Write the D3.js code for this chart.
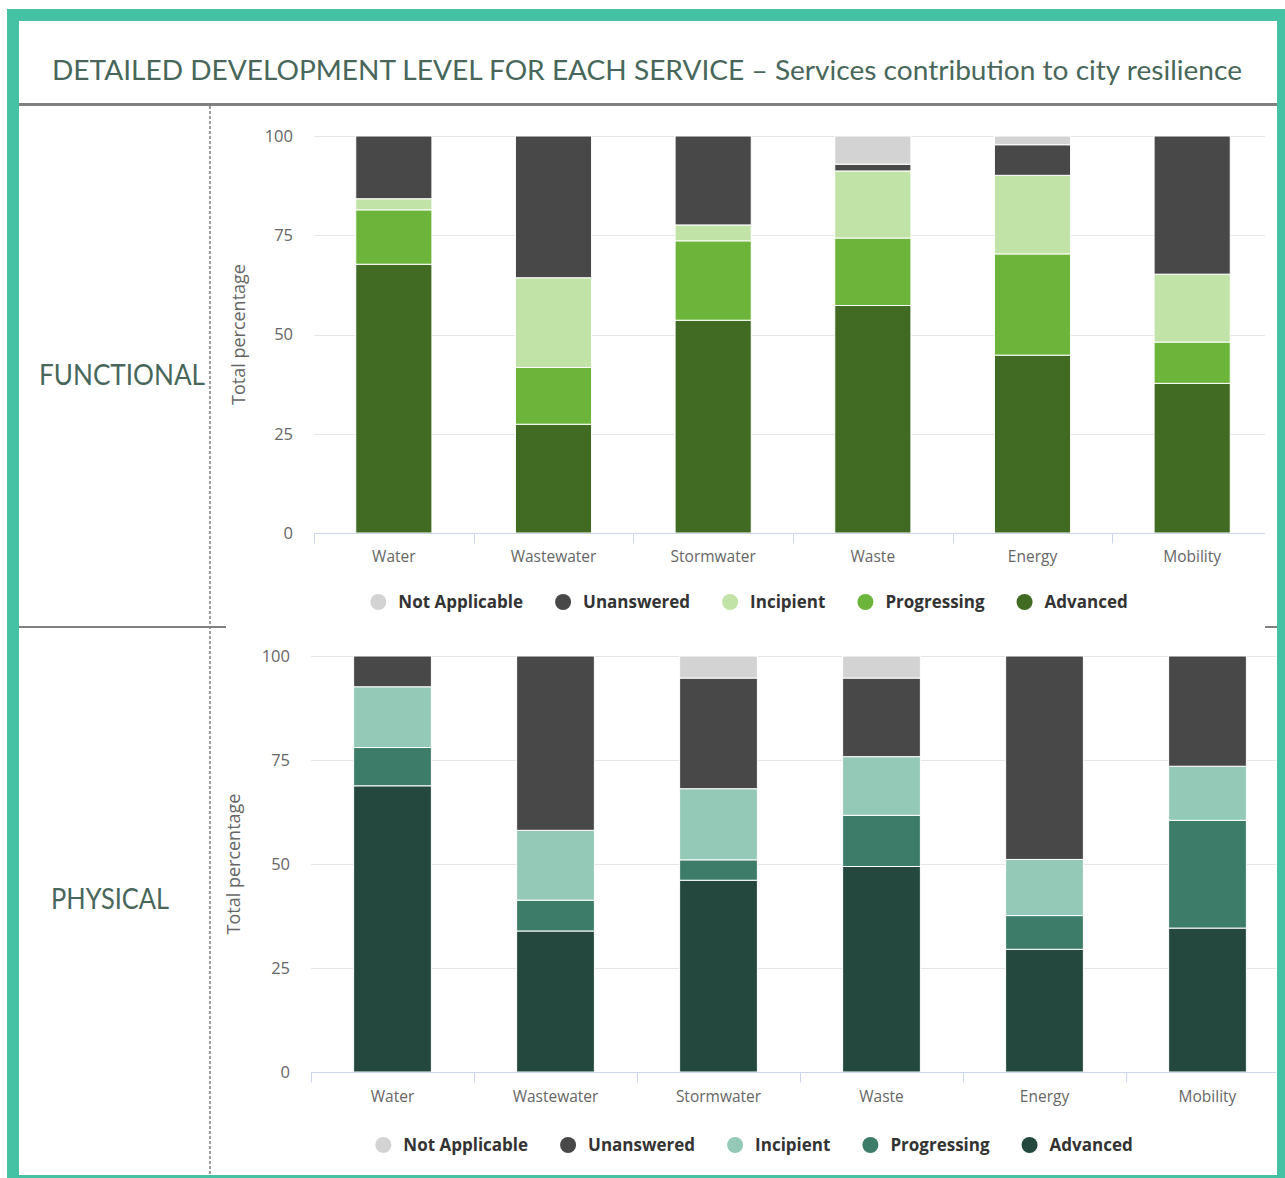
<!DOCTYPE html>
<html>
<head>
<meta charset="utf-8">
<script src="https://cdn.jsdelivr.net/npm/d3@7"></script>
<style>
  body { margin: 0; background: #fff; }
  svg { display: block; }
</style>
</head>
<body>
<svg id="chart" width="1285" height="1178"></svg>
<script>
// Services and development levels
const services = ["Water", "Wastewater", "Stormwater", "Waste", "Energy", "Mobility"];
const stackOrder = ["Advanced", "Progressing", "Incipient", "Unanswered", "Not Applicable"];
const legendOrder = ["Not Applicable", "Unanswered", "Incipient", "Progressing", "Advanced"];
const yTicks = [0, 25, 50, 75, 100];

// Functional resilience (% of answers per level)
const functionalAdvanced      = [67.7, 27.4, 53.6, 57.3, 44.8, 37.7];
const functionalProgressing   = [13.7, 14.3, 20.0, 17.0, 25.5, 10.4];
const functionalIncipient     = [ 2.8, 22.6,  4.0, 16.9, 19.8, 17.1];
const functionalUnanswered    = [15.8, 35.7, 22.4,  1.7,  7.7, 34.8];
const functionalNotApplicable = [ 0.0,  0.0,  0.0,  7.1,  2.2,  0.0];

// Physical resilience (% of answers per level)
const physicalAdvanced      = [68.8, 33.9, 46.1, 49.4, 29.5, 34.6];
const physicalProgressing   = [ 9.2,  7.4,  4.9, 12.3,  8.1, 25.9];
const physicalIncipient     = [14.6, 16.8, 17.1, 14.1, 13.5, 13.0];
const physicalUnanswered    = [ 7.4, 41.9, 26.6, 18.9, 48.9, 26.5];
const physicalNotApplicable = [ 0.0,  0.0,  5.3,  5.3,  0.0,  0.0];

const functionalColors = ["#d3d3d3", "#484848", "#c1e3a7", "#6db53a", "#416b23"];
const physicalColors   = ["#d3d3d3", "#484848", "#93c9b6", "#3d7c69", "#24483e"];

function buildRows(adv, prog, inc, unans, na) {
  return services.map((s, i) => ({
    service: s,
    "Advanced": adv[i],
    "Progressing": prog[i],
    "Incipient": inc[i],
    "Unanswered": unans[i],
    "Not Applicable": na[i]
  }));
}

const svg = d3.select("#chart");
const teal = "#45c2a4";
const frameGray = "#808080";
const labelGreen = "#48675a";

// Frame
svg.append("rect").attr("x", 7).attr("y", 9).attr("width", 1278).attr("height", 12).attr("fill", teal);
svg.append("rect").attr("x", 7).attr("y", 9).attr("width", 12).attr("height", 1169).attr("fill", teal);
svg.append("rect").attr("x", 1277).attr("y", 9).attr("width", 8).attr("height", 1169).attr("fill", teal);
svg.append("rect").attr("x", 7).attr("y", 1175).attr("width", 1278).attr("height", 3).attr("fill", teal);

// Title
svg.append("text")
  .attr("x", 52).attr("y", 80)
  .attr("font-family", "Lato, 'Open Sans', sans-serif")
  .attr("font-size", 26)
  .attr("fill", labelGreen)
  .attr("textLength", 1190)
  .attr("lengthAdjust", "spacingAndGlyphs")
  .text("DETAILED DEVELOPMENT LEVEL FOR EACH SERVICE \u2013 Services contribution to city resilience");

// Table rules
svg.append("line").attr("x1", 19).attr("x2", 1277).attr("y1", 104.5).attr("y2", 104.5)
  .attr("stroke", frameGray).attr("stroke-width", 3);
svg.append("line").attr("x1", 210).attr("x2", 210).attr("y1", 106).attr("y2", 1175)
  .attr("stroke", frameGray).attr("stroke-width", 1.5).attr("stroke-dasharray", "3,2");
svg.append("line").attr("x1", 19).attr("x2", 226).attr("y1", 627).attr("y2", 627)
  .attr("stroke", frameGray).attr("stroke-width", 2);
svg.append("line").attr("x1", 1265).attr("x2", 1277).attr("y1", 627).attr("y2", 627)
  .attr("stroke", frameGray).attr("stroke-width", 2);

// Row labels
svg.append("text").attr("x", 39).attr("y", 385)
  .attr("font-family", "Lato, 'Open Sans', sans-serif").attr("font-size", 29)
  .attr("fill", labelGreen).attr("textLength", 166).attr("lengthAdjust", "spacingAndGlyphs")
  .text("FUNCTIONAL");
svg.append("text").attr("x", 51).attr("y", 909)
  .attr("font-family", "Lato, 'Open Sans', sans-serif").attr("font-size", 29)
  .attr("fill", labelGreen).attr("textLength", 118).attr("lengthAdjust", "spacingAndGlyphs")
  .text("PHYSICAL");

function drawPanel(cfg) {
  const g = svg.append("g");
  const x = d3.scaleBand().domain(services).range([cfg.x0, cfg.x1])
    .paddingInner(0.523).paddingOuter(0.2615);
  const y = d3.scaleLinear().domain([0, 100]).range([cfg.yBottom, cfg.yTop]);
  const color = d3.scaleOrdinal().domain(legendOrder).range(cfg.colors);

  // Gridlines
  g.selectAll(".grid").data(yTicks.filter(t => t > 0)).join("line")
    .attr("x1", cfg.x0).attr("x2", cfg.gridRight)
    .attr("y1", d => Math.round(y(d)) + 0.5).attr("y2", d => Math.round(y(d)) + 0.5)
    .attr("stroke", "#e6e6e6").attr("stroke-width", 1);

  // Y tick labels
  g.selectAll(".ytick").data(yTicks).join("text")
    .attr("x", cfg.x0 - 21).attr("y", d => y(d)).attr("dy", "0.35em")
    .attr("text-anchor", "end")
    .attr("font-family", "'Open Sans', sans-serif").attr("font-size", 16.5)
    .attr("fill", "#666").text(d => d);

  // Y axis title
  g.append("text")
    .attr("transform", `translate(${cfg.yTitleX},${(cfg.yTop + cfg.yBottom) / 2}) rotate(-90)`)
    .attr("text-anchor", "middle")
    .attr("font-family", "'Open Sans', sans-serif").attr("font-size", 18)
    .attr("fill", "#666").text("Total percentage");

  // Stacked bars
  const stack = d3.stack().keys(stackOrder);
  const series = stack(cfg.rows);
  g.selectAll(".series").data(series).join("g")
    .attr("fill", d => color(d.key))
    .selectAll("rect").data(d => d.filter(p => p[1] - p[0] > 0)).join("rect")
    .attr("x", d => x(d.data.service))
    .attr("width", x.bandwidth())
    .attr("y", d => y(d[1]))
    .attr("height", d => y(d[0]) - y(d[1]))
    .attr("stroke", "#ffffff").attr("stroke-width", 1);

  // X axis line and ticks at category boundaries
  const axisY = Math.round(cfg.yBottom) + 0.5;
  g.append("line").attr("x1", cfg.x0).attr("x2", cfg.gridRight)
    .attr("y1", axisY).attr("y2", axisY).attr("stroke", "#ccd6eb");
  const boundary = d => Math.round(x(d) - x.step() * 0.2615) + 0.5;
  g.selectAll(".xtick").data(services).join("line")
    .attr("x1", boundary).attr("x2", boundary)
    .attr("y1", axisY).attr("y2", axisY + 10).attr("stroke", "#ccd6eb");

  // Category labels
  g.selectAll(".xlabel").data(services).join("text")
    .attr("x", d => x(d) + x.bandwidth() / 2).attr("y", cfg.labelY)
    .attr("text-anchor", "middle")
    .attr("font-family", "'Open Sans', sans-serif").attr("font-size", 15.5)
    .attr("fill", "#666").text(d => d);

  // Legend
  const lg = g.append("g");
  const items = lg.selectAll("g").data(legendOrder).join("g");
  items.append("circle").attr("r", 8).attr("cy", 0).attr("fill", d => color(d));
  items.append("text").attr("x", 20).attr("dy", "0.35em")
    .attr("font-family", "'Open Sans', sans-serif").attr("font-size", 17)
    .attr("font-weight", 700).attr("fill", "#333").text(d => d);
  const widths = [];
  items.each(function () {
    widths.push(d3.select(this).select("text").node().getComputedTextLength());
  });
  const total = 8 + d3.sum(widths.map(w => 20 + w)) + 40 * (widths.length - 1);
  let cx = cfg.legendCenter - total / 2 + 8;
  items.each(function (d, i) {
    d3.select(this).attr("transform", `translate(${cx},${cfg.legendY})`);
    cx += 20 + widths[i] + 40;
  });
}

drawPanel({
  rows: buildRows(functionalAdvanced, functionalProgressing, functionalIncipient,
                  functionalUnanswered, functionalNotApplicable),
  colors: functionalColors,
  x0: 314, x1: 1272, gridRight: 1265,
  yTop: 136, yBottom: 533,
  yTitleX: 245, labelY: 562,
  legendCenter: 749, legendY: 602
});

drawPanel({
  rows: buildRows(physicalAdvanced, physicalProgressing, physicalIncipient,
                  physicalUnanswered, physicalNotApplicable),
  colors: physicalColors,
  x0: 311, x1: 1289, gridRight: 1276,
  yTop: 656, yBottom: 1072,
  yTitleX: 240, labelY: 1102,
  legendCenter: 754, legendY: 1145
});
</script>
</body>
</html>
